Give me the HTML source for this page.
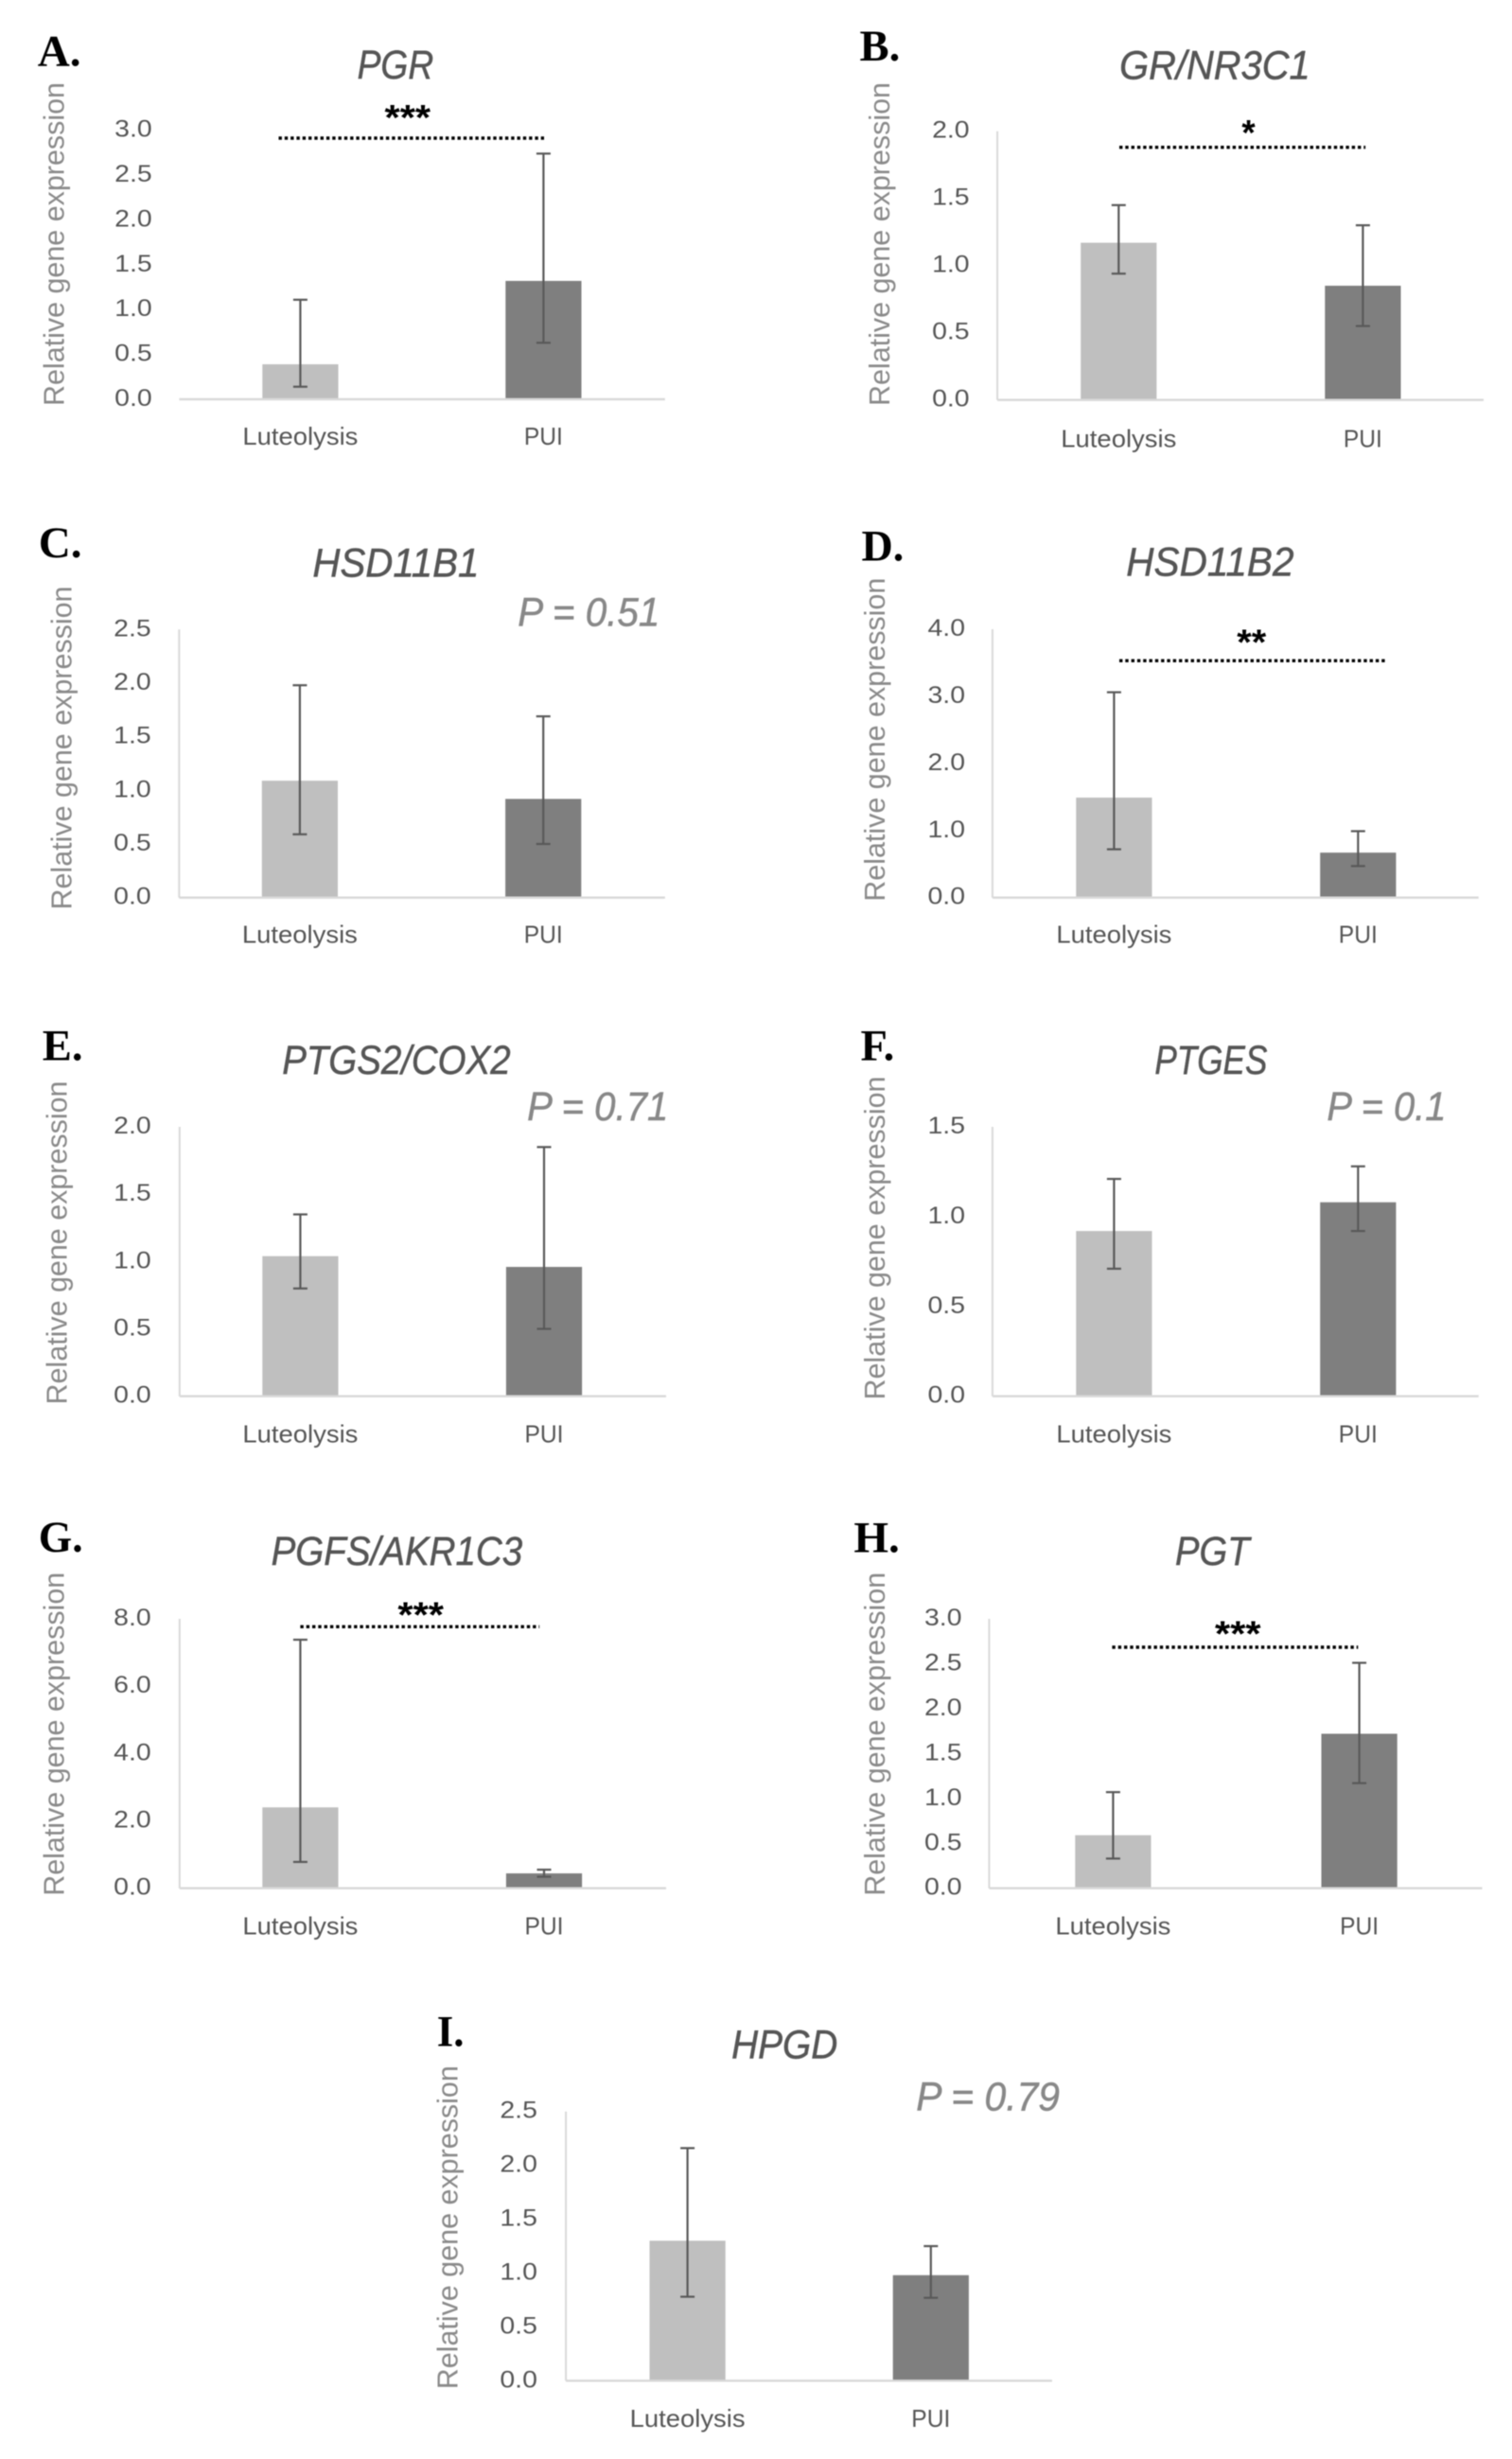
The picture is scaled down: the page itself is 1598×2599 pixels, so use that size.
<!DOCTYPE html>
<html lang="en">
<head>
<meta charset="utf-8">
<title>Relative gene expression: Luteolysis vs PUI</title>
<style>
  html, body { margin: 0; padding: 0; background: #ffffff; }
  #figure { display: block; width: 1598px; height: 2599px; filter: blur(0.55px); }
  text { font-family: "Liberation Sans", sans-serif; }
</style>
</head>
<body>
<svg id="figure" xmlns="http://www.w3.org/2000/svg" width="1598" height="2599" viewBox="0 0 1598 2599"></svg>
<script>
// ---- chart data ----
const categories = ['Luteolysis', 'PUI'];
const panelLetters = ['A.', 'B.', 'C.', 'D.', 'E.', 'F.', 'G.', 'H.', 'I.'];
const geneTitles = ['PGR', 'GR/NR3C1', 'HSD11B1', 'HSD11B2', 'PTGS2/COX2', 'PTGES', 'PGFS/AKR1C3', 'PGT', 'HPGD'];
const axisMax = [3, 2, 2.5, 4, 2, 1.5, 8, 3, 2.5];
const tickValues = [
  [0, 0.5, 1, 1.5, 2, 2.5, 3],
  [0, 0.5, 1, 1.5, 2],
  [0, 0.5, 1, 1.5, 2, 2.5],
  [0, 1, 2, 3, 4],
  [0, 0.5, 1, 1.5, 2],
  [0, 0.5, 1, 1.5],
  [0, 2, 4, 6, 8],
  [0, 0.5, 1, 1.5, 2, 2.5, 3],
  [0, 0.5, 1, 1.5, 2, 2.5]
];
const luteolysisMeans = [0.39, 1.17, 1.09, 1.49, 1.04, 0.92, 2.40, 0.59, 1.30];
const luteolysisErrTop = [1.11, 1.45, 1.98, 3.06, 1.35, 1.21, 7.38, 1.07, 2.16];
const luteolysisErrBottom = [0.14, 0.94, 0.59, 0.72, 0.80, 0.71, 0.78, 0.33, 0.78];
const puiMeans = [1.32, 0.85, 0.92, 0.67, 0.96, 1.08, 0.44, 1.72, 0.98];
const puiErrTop = [2.74, 1.30, 1.69, 0.99, 1.85, 1.28, 0.55, 2.51, 1.25];
const puiErrBottom = [0.63, 0.55, 0.50, 0.47, 0.50, 0.92, 0.34, 1.17, 0.77];
const significance = ['***', '*', null, '**', null, null, '***', '***', null];
const pValues = [null, null, 'P = 0.51', null, 'P = 0.71', 'P = 0.1', null, null, 'P = 0.79'];
const yAxisTitle = 'Relative gene expression';

// ---- page layout, one entry per panel ----
const layouts = [
  {ax0:189.4, ax1:702.8, base:422, top:137.7, yLine:false, c:[317.4,574.4], tickR:160.7, ytX:67.7, ytMid:258, catY:470,
   title:[417.9,83,80.6], letter:[39.8,69.3,45.8], sig:[294.5,575,146,430.8,115,48.5]},
  {ax0:1054.1, ax1:1568, base:422.7, top:138.7, yLine:true, c:[1182.3,1440.4], tickR:1024.6, ytX:940.1, ytMid:258, catY:472.7,
   title:[1283.9,83.3,201.6], letter:[908.5,64,42.8], sig:[1183,1443.1,155.7,1319.5,131,14.3]},
  {ax0:189.3, ax1:702.8, base:948.7, top:665.3, yLine:true, c:[316.9,574.2], tickR:159.7, ytX:75.6, ytMid:790.5, catY:996.7,
   title:[418.4,609.3,176], letter:[40.8,589,45.8], p:[547.2,661.7,150.2]},
  {ax0:1048.9, ax1:1562.7, base:948.7, top:665, yLine:true, c:[1177.4,1435.3], tickR:1020, ytX:935, ytMid:781.7, catY:996.7,
   title:[1278.9,608.3,177.2], letter:[910.5,592.3,44.8], sig:[1183,1464.6,698.3,1322.7,669.7,30.9]},
  {ax0:189.8, ax1:704, base:1475.7, top:1191, yLine:true, c:[317.4,575], tickR:159.7, ytX:70.4, ytMid:1313.5, catY:1524.3,
   title:[418.9,1135,241.4], letter:[44.8,1120.7,42.8], p:[557.1,1184,149.2]},
  {ax0:1048.9, ax1:1562.7, base:1475.7, top:1191, yLine:true, c:[1177.4,1435.3], tickR:1020, ytX:935, ytMid:1308.5, catY:1524.3,
   title:[1279.9,1135,119], letter:[909.5,1120.7,35.8], p:[1402.4,1184,126]},
  {ax0:189.8, ax1:704, base:1995.7, top:1711, yLine:true, c:[317.4,575], tickR:159.7, ytX:67.7, ytMid:1832.8, catY:2044.3,
   title:[419.4,1654,265.6], letter:[40.8,1640,46.8], sig:[317.4,570.1,1719.3,444.7,1697.7,48.5]},
  {ax0:1045.4, ax1:1566.5, base:1995.7, top:1711, yLine:true, c:[1176.4,1436.6], tickR:1016.5, ytX:935, ytMid:1832.8, catY:2044.3,
   title:[1281.3,1654,78.5], letter:[902.4,1640.7,48.4], sig:[1175.4,1435.3,1741,1308.3,1717.7,48.5]},
  {ax0:598.1, ax1:1111.9, base:2516.3, top:2231.7, yLine:true, c:[726.6,983.8], tickR:567.9, ytX:483.7, ytMid:2354.2, catY:2565,
   title:[829.2,2175.7,112.1], letter:[461.8,2162.7,28.7], p:[968.2,2230.7,151.8]}
];
const BAR_WIDTH = 80.2;
const CAP_WIDTH = 15;
const catWidths = [122, 41];
const barColors = ['#bfbfbf', '#7f7f7f'];
const SVG_NS = 'http://www.w3.org/2000/svg';
const figure = document.getElementById('figure');

function make(parent, tag, attrs, content) {
  const el = document.createElementNS(SVG_NS, tag);
  Object.keys(attrs).forEach(function (k) { el.setAttribute(k, attrs[k]); });
  if (content !== undefined) el.textContent = content;
  parent.appendChild(el);
  return el;
}

function slug(s) {
  return s.toLowerCase().replace(/[^a-z0-9]+/g, '-');
}

function drawPanel(i) {
  const L = layouts[i];
  const name = slug(geneTitles[i]);
  const yScale = function (v) { return L.base - (v / axisMax[i]) * (L.base - L.top); };
  const xScale = function (k) { return L.c[k]; };
  const means = [luteolysisMeans[i], puiMeans[i]];
  const errTop = [luteolysisErrTop[i], puiErrTop[i]];
  const errBottom = [luteolysisErrBottom[i], puiErrBottom[i]];

  const g = make(figure, 'g', {});
  
  

  const letter = make(g, 'text', {
    x: L.letter[0], y: L.letter[1], 'font-size': 47, 'font-weight': 'bold', fill: '#000000',
    style: 'font-family:"Liberation Serif",serif', textLength: L.letter[2], lengthAdjust: 'spacingAndGlyphs'
  }, panelLetters[i]);
  
  

  const title = make(g, 'text', {
    x: L.title[0], y: L.title[1], 'font-size': 43, 'font-style': 'italic', fill: '#555555',
    stroke: '#555555', 'stroke-width': 0.5,
    'text-anchor': 'middle', textLength: L.title[2], lengthAdjust: 'spacingAndGlyphs'
  }, geneTitles[i]);
  
  

  const yTitle = make(g, 'text', {
    transform: 'translate(' + L.ytX + ' ' + L.ytMid + ') rotate(-90)', x: 0, y: 0, 'font-size': 31, fill: '#8a8a8a',
    'text-anchor': 'middle', textLength: 342, lengthAdjust: 'spacingAndGlyphs'
  }, yAxisTitle);
  
  

  tickValues[i].forEach(function (t) {
    const label = make(g, 'text', {
      x: L.tickR, y: yScale(t) + 7, 'font-size': 25, fill: '#555555',
      'text-anchor': 'end', textLength: 39.5, lengthAdjust: 'spacingAndGlyphs'
    }, t.toFixed(1));
    
    
  });

  categories.forEach(function (cat, k) {
    const bar = make(g, 'rect', {
      x: xScale(k) - BAR_WIDTH / 2, y: yScale(means[k]), width: BAR_WIDTH,
      height: L.base - yScale(means[k]), fill: barColors[k]
    });
    
    
  });

  if (L.yLine) {
    const yAxis = make(g, 'line', {x1: L.ax0, x2: L.ax0, y1: L.top, y2: L.base, stroke: '#d9d9d9', 'stroke-width': 2});
    
    
  }
  const xAxis = make(g, 'line', {x1: L.ax0, x2: L.ax1, y1: L.base, y2: L.base, stroke: '#d9d9d9', 'stroke-width': 2.4});
  
  

  categories.forEach(function (cat, k) {
    const cx = xScale(k);
    const stem = make(g, 'line', {x1: cx, x2: cx, y1: yScale(errTop[k]), y2: yScale(errBottom[k]), stroke: '#595959', 'stroke-width': 2.2});
    
    

    const capTop = make(g, 'line', {x1: cx - CAP_WIDTH / 2, x2: cx + CAP_WIDTH / 2, y1: yScale(errTop[k]), y2: yScale(errTop[k]), stroke: '#595959', 'stroke-width': 2.2});
    
    

    const capBottom = make(g, 'line', {x1: cx - CAP_WIDTH / 2, x2: cx + CAP_WIDTH / 2, y1: yScale(errBottom[k]), y2: yScale(errBottom[k]), stroke: '#595959', 'stroke-width': 2.2});
    
    

    const catLabel = make(g, 'text', {
      x: cx, y: L.catY, 'font-size': 26, fill: '#555555', 'text-anchor': 'middle',
      textLength: catWidths[k], lengthAdjust: 'spacingAndGlyphs'
    }, cat);
    
    
  });

  if (significance[i]) {
    const dots = make(g, 'line', {
      x1: L.sig[0], x2: L.sig[1], y1: L.sig[2], y2: L.sig[2], stroke: '#000000',
      'stroke-width': 3.4, 'stroke-dasharray': '3.4 2.9'
    });
    
    

    const stars = make(g, 'text', {
      x: L.sig[3], y: L.sig[4] + 22, 'font-size': 38, 'font-weight': 'bold', fill: '#000000', 'text-anchor': 'middle',
      textLength: L.sig[5], lengthAdjust: 'spacingAndGlyphs'
    }, significance[i]);
    
    
  }

  if (pValues[i]) {
    const pLabel = make(g, 'text', {
      x: L.p[0], y: L.p[1], 'font-size': 43, 'font-style': 'italic', fill: '#888888',
      stroke: '#888888', 'stroke-width': 0.5,
      textLength: L.p[2], lengthAdjust: 'spacingAndGlyphs'
    }, pValues[i]);
    
    
  }
}

geneTitles.forEach(function (_, i) { drawPanel(i); });
</script>
</body>
</html>
